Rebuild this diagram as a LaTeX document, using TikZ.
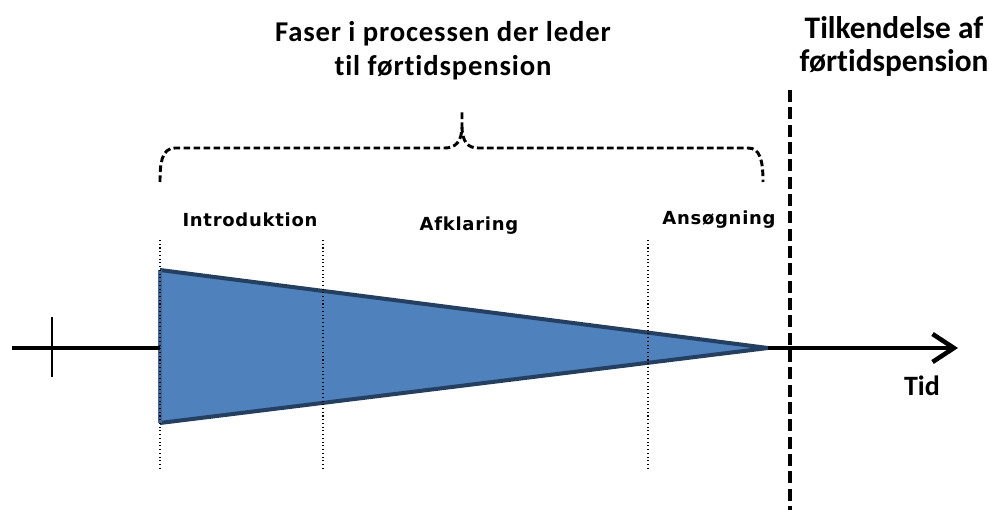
\documentclass[tikz,border=0pt]{standalone}
\usepackage{fontspec}
\setmainfont{Carlito}[Ligatures={NoCommon}]
\newfontfamily\titlefont{Carlito}[Ligatures={NoCommon}, LetterSpace=3]
\newfontfamily\lblfont{DejaVu Sans}[LetterSpace=4]
\usetikzlibrary{arrows.meta}
\definecolor{triFill}{HTML}{4F81BD}
\definecolor{triLine}{HTML}{243F60}
\tikzset{
  title/.style={font=\titlefont\fontsize{21.5}{25.5}\selectfont\bfseries, align=center, inner sep=0pt, anchor=base},
  phase/.style={font=\lblfont\fontsize{13.5}{15}\selectfont\bfseries, inner sep=0pt, anchor=base},
  phaseline/.style={dotted, line width=0.8pt},
  axis/.style={line width=3.6pt},
  bracestyle/.style={line width=2.2pt, dash pattern=on 5pt off 2.5pt},
}
\begin{document}
\begin{tikzpicture}[x=0.75pt,y=-0.75pt]
\useasboundingbox (0,0) rectangle (989,510);
% titles
\node[title] (t1) at (443,76) {Faser i processen der leder\\til førtidspension};
\node[title, font=\fontsize{23.5}{25}\selectfont\bfseries] (t2) at (894,72) {Tilkendelse af\\førtidspension};
% phase labels
\node[phase] (p1) at (250,226) {Introduktion};
\node[phase] (p2) at (469,230) {Afklaring};
\node[phase] (p3) at (719,224) {Ansøgning};
% coordinates
\coordinate (ta) at (160,270);
\coordinate (tb) at (160,423);
\coordinate (tc) at (768,348);
\coordinate (ax0) at (12,348);
\coordinate (ax1) at (160,348);
\coordinate (ax2) at (958,348);
% triangle
\fill[triFill] (ta) -- (tb) -- (tc) -- cycle;
\draw[triLine, line width=3pt, line join=miter] (ta) -- (tc) -- (tb);
\draw[triFill!80!black, line width=3pt] (ta) -- (tb);
% axis
\draw[axis] (ax0) -- (ax1);
\draw[axis, -{Straight Barb[length=16pt,width=21pt,line width=3.4pt]}] (tc) -- (ax2);
\draw[line width=2.2pt] (52,317) -- (52,377);
\node[font=\fontsize{21}{24}\selectfont\bfseries, inner sep=0pt, anchor=base] (tid) at (922,395) {Tid};
% dotted phase separators
\coordinate (d1a) at (160,240); \coordinate (d1b) at (160,468);
\coordinate (d2a) at (323,240); \coordinate (d2b) at (323,468);
\coordinate (d3a) at (648,240); \coordinate (d3b) at (648,468);
\draw[phaseline] (d1a) -- (d1b);
\draw[phaseline] (d2a) -- (d2b);
\draw[phaseline] (d3a) -- (d3b);
% dashed award line
\coordinate (va) at (790,90);
\coordinate (vb) at (790,510);
\draw[line width=2.8pt, dash pattern=on 9pt off 4pt] (va) -- (vb);
% brace
\draw[bracestyle] (160,182) .. controls (160,165) and (161,148) .. (175,148)
  -- (445,148) .. controls (455,148) and (462,142) .. (462,126) -- (462,112)
  (462,126) .. controls (462,142) and (468,148) .. (478,148)
  -- (748,148) .. controls (760,148) and (763,160) .. (763,182);
\end{tikzpicture}
\end{document}
